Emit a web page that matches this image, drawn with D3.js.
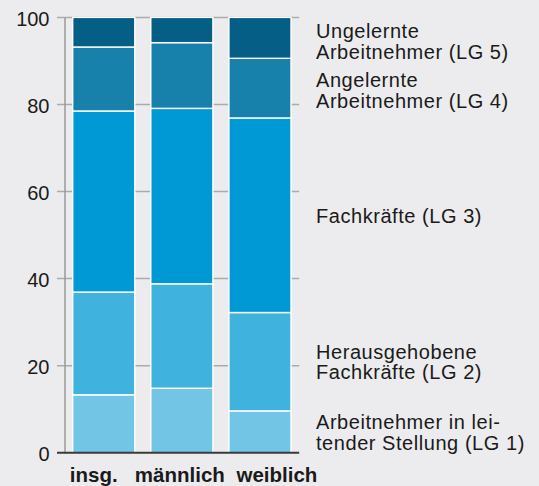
<!DOCTYPE html>
<html>
<head>
<meta charset="utf-8">
<script src="https://cdn.jsdelivr.net/npm/d3@7/dist/d3.min.js"></script>
<style>
  html, body { margin: 0; padding: 0; background: #ececee; }
  svg { display: block; }
  text { font-family: "Liberation Sans", Arial, Helvetica, sans-serif; fill: #1a1a1a; }
</style>
</head>
<body>
<svg id="chart" width="539" height="486"></svg>
<script>
// Gruppen (x-Achse)
const categories = ["insg.", "männlich", "weiblich"];

// Anteile je Leistungsgruppe in Prozent (von unten nach oben gestapelt)
const lg1 = [13.3, 14.8, 9.6];
const lg2 = [23.6, 24.0, 22.6];
const lg3 = [41.6, 40.3, 44.7];
const lg4 = [14.7, 15.1, 13.7];
const lg5 = [6.8, 5.8, 9.4];

const seriesKeys = ["LG1", "LG2", "LG3", "LG4", "LG5"];
const seriesLabels = [
  ["Arbeitnehmer in lei-", "tender Stellung (LG 1)"],
  ["Herausgehobene", "Fachkräfte (LG 2)"],
  ["Fachkräfte (LG 3)"],
  ["Angelernte", "Arbeitnehmer (LG 4)"],
  ["Ungelernte", "Arbeitnehmer (LG 5)"]
];
const seriesColors = ["#72c5e5", "#3fb2de", "#0099d5", "#1781ab", "#055e86"];

const yTicks = [0, 20, 40, 60, 80, 100];

// Tabelle für d3.stack
const table = categories.map((c, i) => ({
  cat: c, LG1: lg1[i], LG2: lg2[i], LG3: lg3[i], LG4: lg4[i], LG5: lg5[i]
}));

const svg = d3.select("#chart");
const axisX = 64.5, plotRight = 299.2, gridLeft = 57;

const x = d3.scaleBand()
  .domain(categories)
  .range([axisX, plotRight])
  .paddingInner(0.205)
  .paddingOuter(0.105);

const y = d3.scaleLinear().domain([0, 100]).range([452.7, 17.4]);

const stacked = d3.stack().keys(seriesKeys)(table);

// Gitterlinien
svg.append("g").selectAll("line")
  .data(yTicks.filter(t => t > 0))
  .join("line")
  .attr("x1", gridLeft).attr("x2", plotRight)
  .attr("y1", d => y(d)).attr("y2", d => y(d))
  .attr("stroke", "#ababab").attr("stroke-width", 1.5);

// y-Achse mit Beschriftung
const yAxis = d3.axisLeft(y).tickValues(yTicks).tickSize(0).tickPadding(15);
const gy = svg.append("g").attr("transform", `translate(${axisX},0)`).call(yAxis);
gy.select(".domain").attr("stroke", "#9a9a9a").attr("stroke-width", 1.5);
gy.selectAll("text")
  .attr("font-size", 20)
  .attr("font-family", "Liberation Sans, Arial, sans-serif")
  .attr("fill", "#1a1a1a")
  .attr("dy", "0.38em");

// Gestapelte Balken
svg.append("g").selectAll("g")
  .data(stacked)
  .join("g")
  .attr("fill", (d, i) => seriesColors[i])
  .selectAll("rect")
  .data(d => d.map(v => ({ v, cat: v.data.cat })))
  .join("rect")
  .attr("x", d => x(d.cat))
  .attr("width", x.bandwidth())
  .attr("y", d => y(d.v[1]))
  .attr("height", d => y(d.v[0]) - y(d.v[1]))
  .attr("stroke", "#ffffff")
  .attr("stroke-width", 1.4);

// Nulllinie
svg.append("line")
  .attr("x1", gridLeft).attr("x2", plotRight)
  .attr("y1", y(0)).attr("y2", y(0))
  .attr("stroke", "#3a3a3a").attr("stroke-width", 2);

// Gruppenbeschriftung (leicht verschoben, damit die Wörter nicht kollidieren)
const labelShift = { "insg.": -10, "männlich": -2, "weiblich": 17 };
svg.append("g").selectAll("text")
  .data(categories)
  .join("text")
  .attr("x", d => x(d) + x.bandwidth() / 2 + labelShift[d])
  .attr("y", 482)
  .attr("text-anchor", "middle")
  .attr("font-size", 20.5)
  .attr("font-weight", "bold")
  .text(d => d);

// Legende rechts, auf Höhe der Segmentmitten des letzten Balkens
const last = categories.length - 1;
const lineH = 20.5;
const nudge = [0, 0, 0, 2, 3];
svg.append("g").selectAll("text")
  .data(stacked)
  .join("text")
  .attr("x", 316)
  .attr("font-size", 20)
  .attr("letter-spacing", 0.55)
  .each(function (s, i) {
    const mid = y((s[last][0] + s[last][1]) / 2) + nudge[i];
    const lines = seriesLabels[i];
    const top = mid - (lines.length - 1) * lineH / 2 + 7.5;
    d3.select(this).selectAll("tspan")
      .data(lines)
      .join("tspan")
      .attr("x", 316)
      .attr("y", (l, j) => top + j * lineH)
      .text(l => l);
  });
</script>
</body>
</html>
